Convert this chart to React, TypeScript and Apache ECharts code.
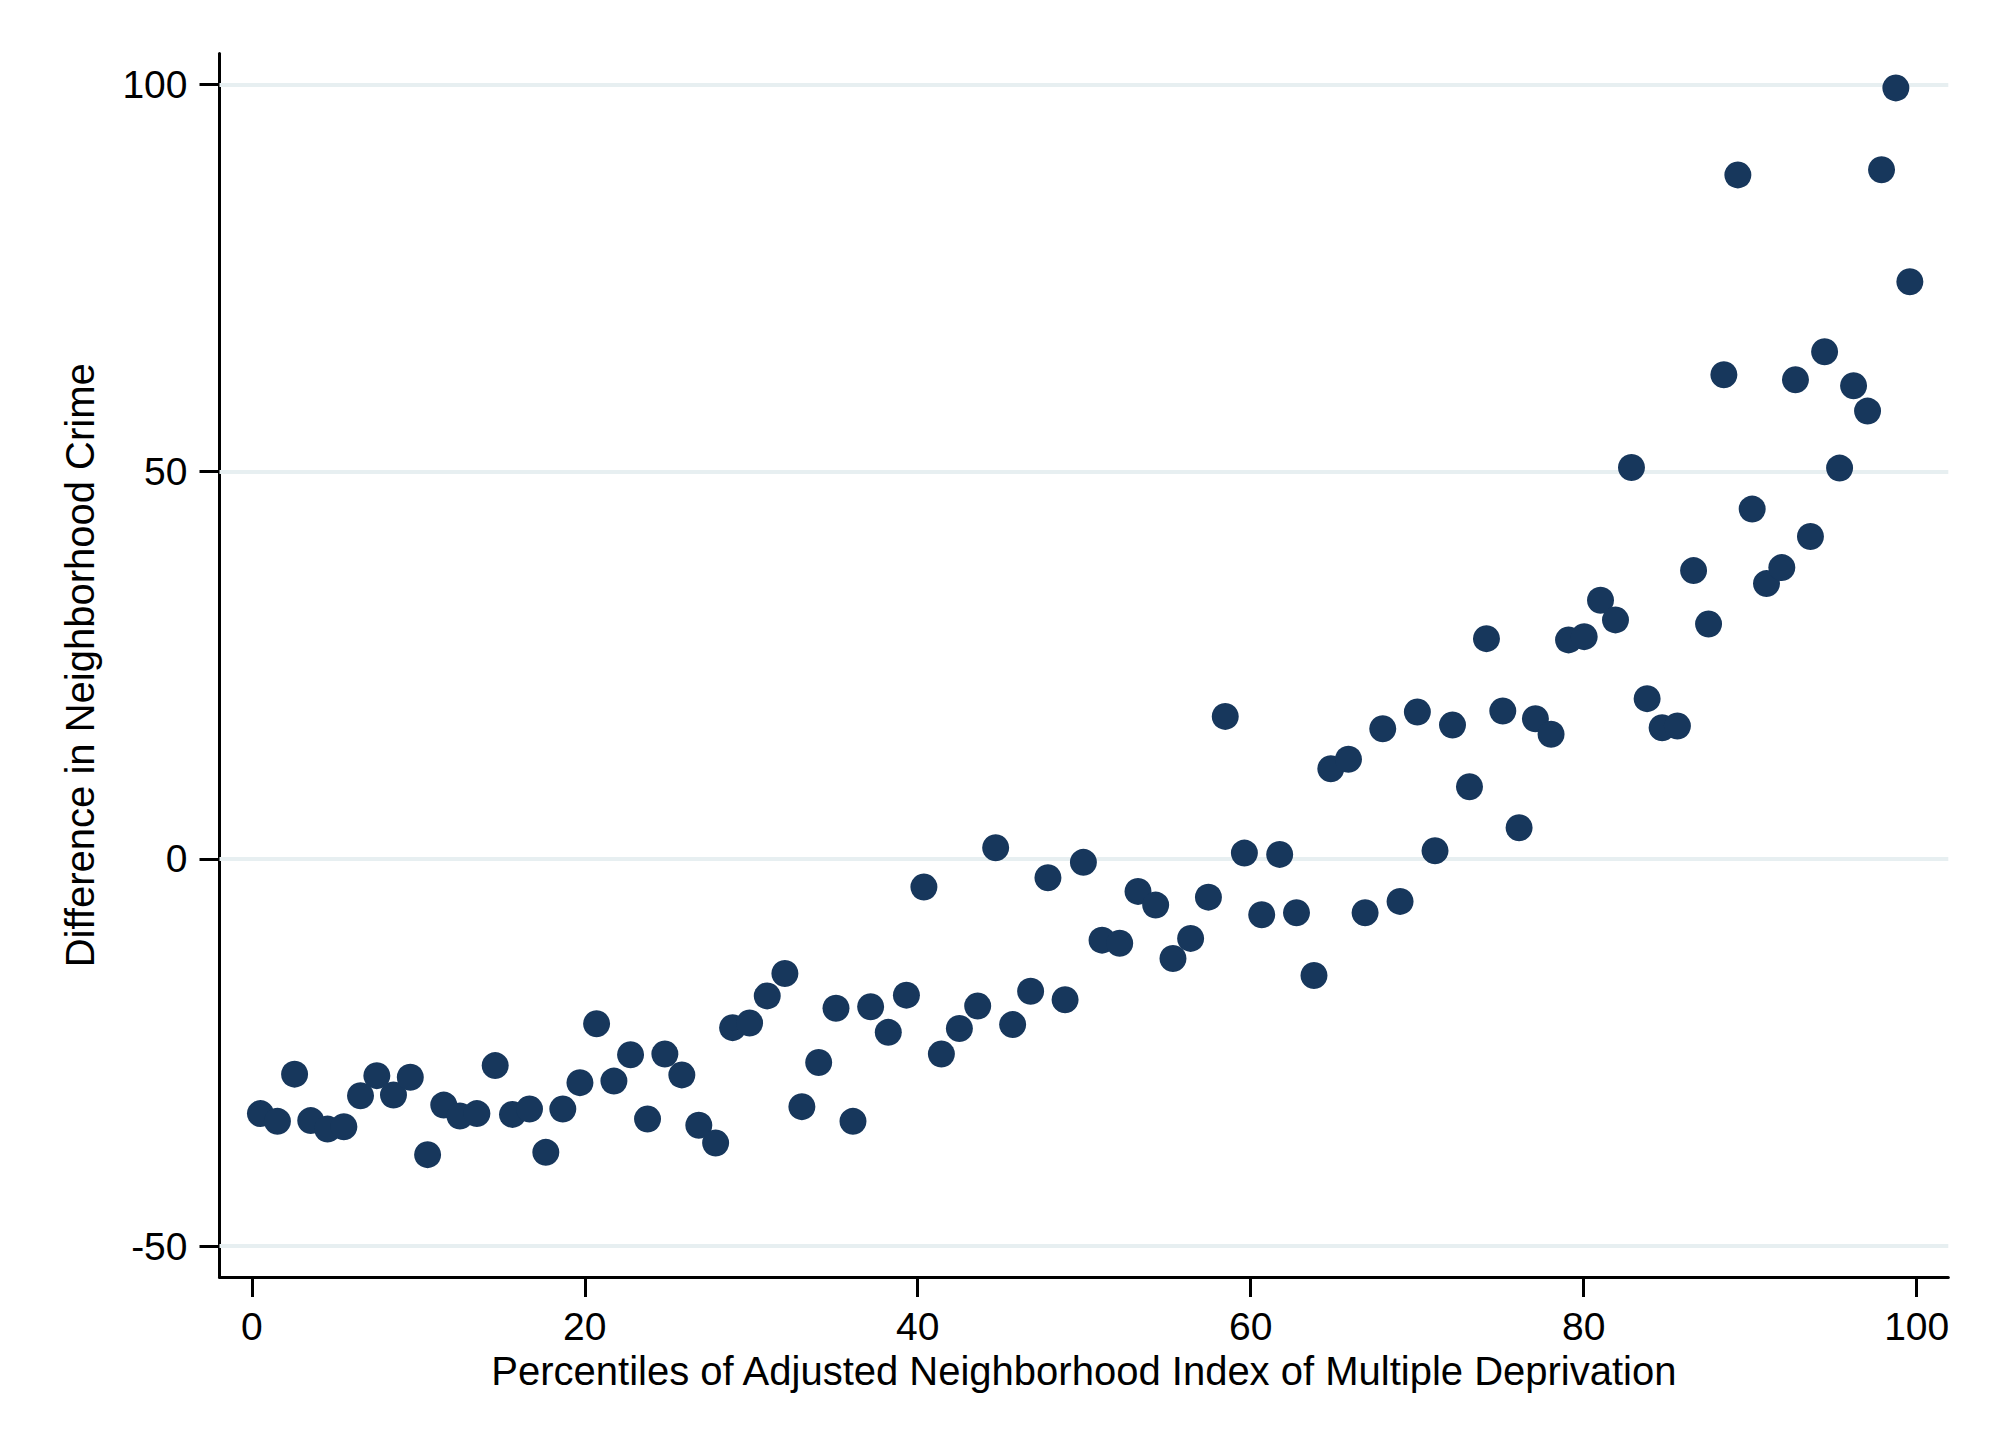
import React, { useEffect, useRef } from "react";
import * as echarts from "echarts";

const xTicks = [0, 20, 40, 60, 80, 100];
const yTicks = [-50, 0, 50, 100];

const xTitle = "Percentiles of Adjusted Neighborhood Index of Multiple Deprivation";
const yTitle = "Difference in Neighborhood Crime";

const xValues = [
  0.52, 1.54, 2.57, 3.54, 4.55, 5.53, 6.53, 7.51, 8.51, 9.52,
  10.56, 11.53, 12.5, 13.52, 14.62, 15.66, 16.68, 17.66, 18.68, 19.71,
  20.71, 21.75, 22.75, 23.77, 24.81, 25.83, 26.85, 27.86, 28.88, 29.9,
  30.96, 32.02, 33.04, 34.05, 35.09, 36.11, 37.17, 38.23, 39.32, 40.37,
  41.42, 42.5, 43.6, 44.68, 45.7, 46.78, 47.82, 48.85, 49.95, 51.07,
  52.13, 53.23, 54.29, 55.33, 56.39, 57.46, 58.47, 59.62, 60.66, 61.74,
  62.75, 63.8, 64.81, 65.87, 66.87, 67.93, 68.97, 70.01, 71.07, 72.12,
  73.14, 74.16, 75.14, 76.12, 77.1, 78.04, 79.09, 80.03, 81.01, 81.91,
  82.87, 83.81, 84.71, 85.63, 86.6, 87.5, 88.42, 89.26, 90.12, 90.98,
  91.9, 92.72, 93.62, 94.47, 95.37, 96.21, 97.05, 97.89, 98.75, 99.59,
];

const yValues = [
  -32.9, -33.9, -27.8, -33.8, -34.9, -34.6, -30.6, -28.0, -30.5, -28.2,
  -38.2, -31.8, -33.2, -32.9, -26.7, -33.0, -32.3, -37.9, -32.3, -28.9,
  -21.3, -28.7, -25.3, -33.6, -25.2, -27.9, -34.4, -36.7, -21.8, -21.2,
  -17.7, -14.8, -32.0, -26.3, -19.3, -33.9, -19.1, -22.4, -17.6, -3.64,
  -25.2, -21.9, -19.0, 1.43, -21.4, -17.1, -2.44, -18.2, -0.45, -10.5,
  -10.9, -4.2, -5.97, -12.86, -10.27, -4.94, 18.4, 0.75, -7.22, 0.58,
  -6.96, -15.06, 11.64, 12.86, -6.96, 16.81, -5.49, 18.97, 1.05, 17.29,
  9.32, 28.44, 19.1, 4.02, 18.1, 16.09, 28.28, 28.7, 33.4, 30.86,
  50.54, 20.69, 16.94, 17.16, 37.23, 30.34, 62.52, 88.33, 45.17, 35.55,
  37.62, 61.87, 41.63, 65.5, 50.47, 61.1, 57.83, 89.0, 99.57, 74.54,
];

export default function App() {
  const ref = useRef<HTMLDivElement>(null);

  useEffect(() => {
    if (!ref.current) return;
    const chart = echarts.init(ref.current, null, { renderer: "svg" });
    const font = "'Liberation Sans', Arial, Helvetica, sans-serif";
    const data = xValues.map((x, i) => [x, yValues[i]]);

    chart.setOption({
      animation: false,
      backgroundColor: "#ffffff",
      textStyle: { fontFamily: font },
      grid: { left: 219.5, right: 51.7, top: 53.6, bottom: 178, containLabel: false },
      xAxis: {
        type: "value",
        min: -1.94,
        max: 101.9,
        name: xTitle,
        nameLocation: "middle",
        nameGap: 74,
        nameTextStyle: { fontSize: 40, color: "#000", fontFamily: font },
        axisLine: { show: true, onZero: false, lineStyle: { color: "#000", width: 3 } },
        axisTick: { show: true, inside: false, length: 20, customValues: xTicks, lineStyle: { color: "#000", width: 3 } },
        axisLabel: { show: true, customValues: xTicks, fontSize: 39, color: "#000", fontFamily: font, margin: 30 },
        splitLine: { show: false },
      },
      yAxis: {
        type: "value",
        min: -54,
        max: 104,
        name: yTitle,
        nameLocation: "middle",
        nameGap: 120,
        nameTextStyle: { fontSize: 40, color: "#000", fontFamily: font },
        axisLine: { show: true, onZero: false, lineStyle: { color: "#000", width: 3 } },
        axisTick: { show: true, inside: false, length: 20, customValues: yTicks, lineStyle: { color: "#000", width: 3 } },
        axisLabel: { show: true, customValues: yTicks, fontSize: 39, color: "#000", fontFamily: font, margin: 32 },
        splitLine: { show: false },
      },
      series: [
        {
          type: "scatter",
          data,
          symbol: "circle",
          symbolSize: 27,
          itemStyle: { color: "#17375c", opacity: 1 },
          z: 3,
          markLine: {
            silent: true,
            z: 1,
            symbol: ["none", "none"],
            label: { show: false },
            lineStyle: { color: "#e7eff1", width: 4, type: "solid" },
            emphasis: { disabled: true },
            data: yTicks.map((v) => ({ yAxis: v })),
          },
        },
      ],
    });

    return () => chart.dispose();
  }, []);

  return (
    <div
      ref={ref}
      style={{ position: "absolute", left: 0, top: 0, width: 2000, height: 1455 }}
    />
  );
}
